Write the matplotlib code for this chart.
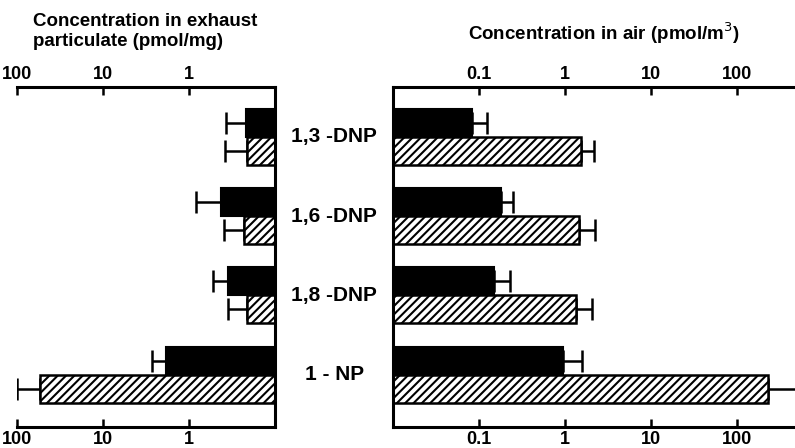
import matplotlib
matplotlib.use('Agg')
import matplotlib.pyplot as plt
import matplotlib.transforms as mtransforms
import numpy as np

# compounds, top to bottom
compounds = ['1,3 -DNP', '1,6 -DNP', '1,8 -DNP', '1 - NP']

# exhaust particulate (pmol/mg): solid and hatched series, with error ends
exhaust_solid = [0.22, 0.43, 0.35, 1.86]
exhaust_solid_err = [0.37, 0.83, 0.52, 2.7]
exhaust_hatch = [0.21, 0.23, 0.21, 54]
exhaust_hatch_err = [0.38, 0.39, 0.35, 100]

# air (pmol/m3)
air_solid = [0.083, 0.18, 0.15, 0.95]
air_solid_err = [0.124, 0.25, 0.23, 1.58]
air_hatch = [1.53, 1.45, 1.34, 229]
air_hatch_err = [2.17, 2.23, 2.06, 600]

left_ticks = [100, 10, 1]
right_ticks = [0.1, 1, 10, 100]

plt.rcParams['hatch.linewidth'] = 1.5
plt.rcParams['font.family'] = ['Liberation Sans', 'DejaVu Sans']

fig = plt.figure(figsize=(7.95, 4.48), dpi=100)
ax_l = fig.add_axes([0.0214, 0.0469, 0.3245, 0.759])
ax_r = fig.add_axes([0.4943, 0.0469, 0.5057, 0.759])

y = np.arange(len(compounds))
h = 0.353
off = h / 2


def draw(ax, base, solid, solid_err, hatch, hatch_err):
    solid = np.array(solid)
    hatch = np.array(hatch)
    ax.barh(y - off, solid - base, left=base, height=h, color='black',
            edgecolor='black', linewidth=1.5, zorder=2)
    ax.barh(y + off, hatch - base, left=base, height=h, color='white',
            edgecolor='black', hatch='////', linewidth=1.8, zorder=2)
    ax.errorbar(solid, y - off, xerr=[np.zeros(len(y)), np.array(solid_err) - solid],
                fmt='none', ecolor='black', elinewidth=1.8, capsize=8, capthick=1.8, zorder=1)
    ax.errorbar(hatch, y + off, xerr=[np.zeros(len(y)), np.array(hatch_err) - hatch],
                fmt='none', ecolor='black', elinewidth=1.8, capsize=8, capthick=1.8, zorder=1)


draw(ax_l, 0.1, exhaust_solid, exhaust_solid_err, exhaust_hatch, exhaust_hatch_err)
draw(ax_r, 0.01, air_solid, air_solid_err, air_hatch, air_hatch_err)

ax_l.set_xscale('log')
ax_l.set_xlim(100, 0.1)
ax_r.set_xscale('log')
ax_r.set_xlim(0.01, 472)

for ax, ticks, hidden in [(ax_l, left_ticks, 'left'), (ax_r, right_ticks, 'right')]:
    ax.set_ylim(3.66, -0.63)
    ax.set_yticks([])
    ax.set_xticks(ticks)
    ax.set_xticklabels([('%g' % t) for t in ticks], fontweight='bold', fontsize=13)
    ax.xaxis.set_minor_locator(matplotlib.ticker.NullLocator())
    ax.tick_params(axis='x', which='major', direction='in', top=True, bottom=True,
                   labeltop=True, labelbottom=True, length=6, width=1.8, pad=3)
    ax.spines[hidden].set_visible(False)
    for s in ['top', 'bottom', 'left', 'right']:
        ax.spines[s].set_linewidth(2.2)

trans = mtransforms.blended_transform_factory(ax_l.transAxes, ax_l.transData)
for i, name in enumerate(compounds):
    ax_l.text(1.229, i, name, transform=trans, ha='center', va='center',
              fontsize=15, fontweight='bold', clip_on=False)

fig.text(0.042, 1 - 13 / 448, 'Concentration in exhaust\nparticulate (pmol/mg)',
         ha='left', va='top', fontsize=13.5, fontweight='bold', linespacing=1.25)
fig.text(0.76, 0.926, 'Concentration in air (pmol/m$^3$)',
         ha='center', va='center', fontsize=13.5, fontweight='bold')

fig.savefig('out.png', dpi=100)
